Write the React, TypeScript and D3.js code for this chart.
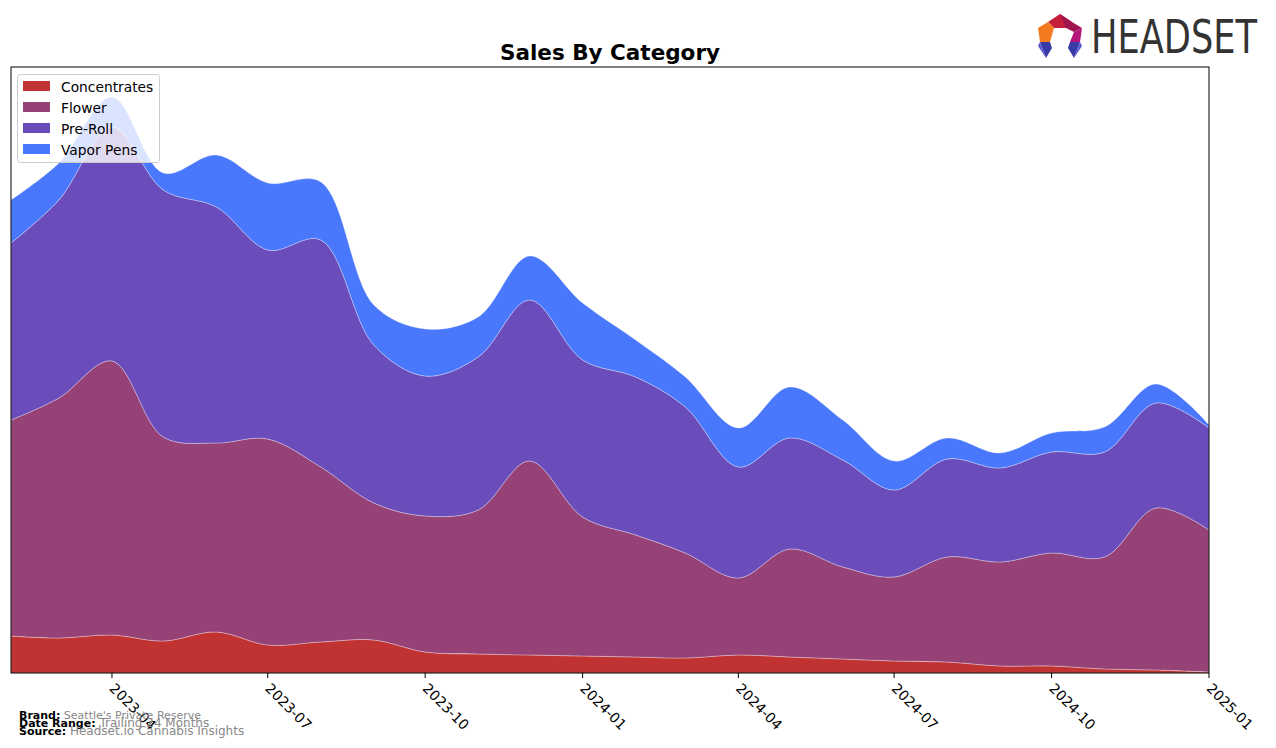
import React from "react";
import * as d3 from "d3";

const months = [
  "2023-02-01", "2023-03-01", "2023-04-01", "2023-05-01", "2023-06-01", "2023-07-01",
  "2023-08-01", "2023-09-01", "2023-10-01", "2023-11-01", "2023-12-01", "2024-01-01",
  "2024-02-01", "2024-03-01", "2024-04-01", "2024-05-01", "2024-06-01", "2024-07-01",
  "2024-08-01", "2024-09-01", "2024-10-01", "2024-11-01", "2024-12-01", "2025-01-01",
];

const concentrates = [37, 35, 38, 32, 41, 28, 31, 33, 21, 19, 18, 17, 16, 15, 18, 16, 14, 12, 11, 7, 7, 4, 3, 1];
const flower = [216, 240, 274, 204, 189, 206, 175, 137, 136, 144, 194, 139, 122, 105, 77, 108, 92, 84, 105, 104, 113, 112, 162, 142];
const preRoll = [177, 198, 234, 247, 236, 189, 227, 158, 140, 153, 161, 157, 158, 146, 111, 111, 107, 87, 98, 94, 101, 105, 105, 102];
const vaporPens = [43, 37, 30, 17, 52, 67, 58, 40, 47, 40, 44, 57, 37, 30, 39, 51, 40, 29, 21, 15, 19, 25, 19, 3];

const categories = ["Concentrates", "Flower", "Pre-Roll", "Vapor Pens"];
const colors = ["#c13333", "#974277", "#6a4dbb", "#4a78fd"];
const tickLabels = ["2023-04", "2023-07", "2023-10", "2024-01", "2024-04", "2024-07", "2024-10", "2025-01"];

const W = 1276;
const H = 748;
const left = 11;
const right = 1209;
const top = 67;
const bottom = 673;

export default function App() {
  const parse = d3.timeParse("%Y-%m-%d");
  const dates = months.map((m) => parse(m) as Date);
  const series = [concentrates, flower, preRoll, vaporPens];
  const rows = dates.map((d, i) => {
    const r: any = { date: d };
    categories.forEach((c, k) => (r[c] = series[k][i]));
    return r;
  });
  const stacked = d3.stack().keys(categories)(rows);

  const x = d3.scaleTime().domain([dates[0], dates[dates.length - 1]]).range([left, right]);
  const y = d3.scaleLinear().domain([0, 606]).range([bottom, top]);

  const area = d3
    .area<any>()
    .x((d) => x(d.data.date))
    .y0((d) => y(d[0]))
    .y1((d) => y(d[1]))
    .curve(d3.curveCatmullRom.alpha(0.5));

  const ticks = tickLabels.map((t) => parse(t + "-01") as Date);

  return (
    <svg width={W} height={H} style={{ position: "absolute", left: 0, top: 0 }} fontFamily="DejaVu Sans">
      <rect width={W} height={H} fill="#fff" />
      {stacked.map((s, k) => (
        <path key={k} d={area(s) || ""} fill={colors[k]} stroke="#ffffff" strokeOpacity={0.3} strokeWidth={1} />
      ))}
      <rect x={left} y={top} width={right - left} height={bottom - top} fill="none" stroke="#000" strokeWidth={1} />
      {ticks.map((t, i) => (
        <g key={i} transform={`translate(${x(t)},${bottom})`}>
          <line y2={5} stroke="#000" />
          <text transform="translate(4,9) rotate(45)" fontSize={14} textAnchor="start" dominantBaseline="hanging" fill="#000">
            {tickLabels[i]}
          </text>
        </g>
      ))}
      <text x={610} y={60} textAnchor="middle" fontSize={21.5} fontWeight="bold">
        Sales By Category
      </text>
      <g>
        <rect x={17.5} y={74.5} width={142} height={88} rx={3} fill="#fff" fillOpacity={0.8} stroke="#ccc" />
        {categories.map((c, k) => (
          <g key={c} transform={`translate(0,${87 + k * 21})`}>
            <rect x={23} y={-6} width={27} height={10} fill={colors[k]} />
            <text x={61} y={5} fontSize={13.8}>
              {c}
            </text>
          </g>
        ))}
      </g>
      <g fontSize={11}>
        <text x={19} y={719}>
          <tspan fontWeight="bold">Brand:</tspan>
          <tspan fill="#888"> Seattle's Private Reserve</tspan>
        </text>
        <text x={19} y={727}>
          <tspan fontWeight="bold">Date Range:</tspan>
          <tspan fill="#888" fontSize={12}> Trailing 24 Months</tspan>
        </text>
        <text x={19} y={735}>
          <tspan fontWeight="bold">Source:</tspan>
          <tspan fill="#888" fontSize={12}> Headset.io Cannabis Insights</tspan>
        </text>
      </g>
      <g transform="translate(1038,14)">
        <polygon points="10,8 22,0 34,8 28,14 16,14" fill="#c41e3a" />
        <polygon points="22,0 34,8 44,14 36,18 28,14" fill="#a0154f" />
        <polygon points="0,14 10,8 16,14 12,28 2,28" fill="#f47a20" />
        <polygon points="44,14 36,18 32,28 42,28" fill="#b5157a" />
        <polygon points="2,28 12,28 14,34 8,44" fill="#3a3aa8" />
        <polygon points="2,28 8,44 0,32" fill="#5a5ad0" />
        <polygon points="32,28 42,28 36,44 30,34" fill="#3a3aa8" />
        <polygon points="42,28 44,32 36,44" fill="#5a5ad0" />
      </g>
      <text x={1091} y={53} fontSize={46} fill="#333" fontFamily="DejaVu Sans Condensed, DejaVu Sans" textLength={166} lengthAdjust="spacingAndGlyphs">
        HEADSET
      </text>
    </svg>
  );
}
